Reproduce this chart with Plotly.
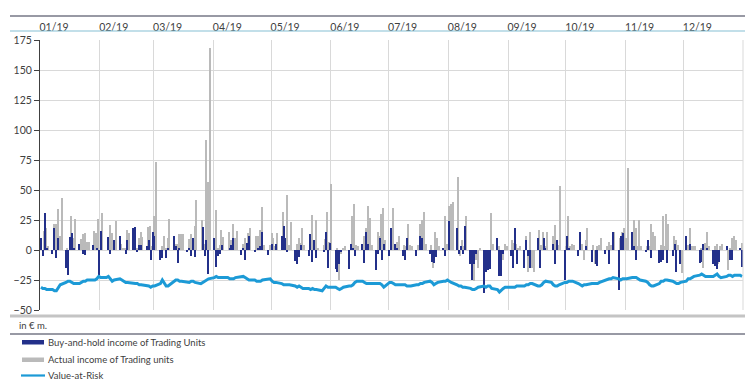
import pandas as pd
import plotly.graph_objects as go

# ---------------- data (EUR m, per trading day) ----------------
bh_jan = [10, -5, 31, 2, -3, 18, -7, 10, 0, -15, -21, 11, 14, 2, 5, 0, -3, -4, 0, 4, 0, 2, -21]
bh_feb = [16, 0, 11, -3, 0, 8, 12, 0, 0, -3, 8, 18, 19, -1, 4, 4, 3, 8, -8, 15]
bh_mar = [12, -8, -7, 0, -7, 1, 12, 3, -11, 2, 0, -2, 1, -5, 10, -6, 0, 19, -5, 8, -20]
bh_apr = [10, -14, -5, -3, 4, 0, 2, 4, 10, 0, -4, 2, -8, 6, 12, -2, 0, 2, 3, 15, -4, 0]
bh_may = [5, 0, 5, 12, 20, 10, -2, 0, -9, -12, -6, 4, 0, -5, 13, -10, 8, -7, 0, -2, 15, -15, 6]
bh_jun = [-16, -18, -12, -2, 0, -16, 5, 2, -5, 0, 5, -11, 15, 5, 0, -17, -3, 10, -8, 5]
bh_jul = [-5, 18, 0, 5, 2, -5, -8, 10, 0, 0, -5, 0, 12, 10, 0, -3, -10, -11, -6, 0, 2, -5, 0]
bh_aug = [24, 0, 18, -3, 3, -3, 20, -12, -25, -12, -3, 0, -36, -18, -17, -16, 0, 10, -22, -22, -3, 0]
bh_sep = [-5, -15, 18, -12, 0, -15, 8, -5, -15, 0, 10, -15, 0, 10, 2, 0, 5, -12, 8, 0, -25]
bh_oct = [12, 2, 0, 0, -5, 15, 0, 0, 3, -10, 0, -12, -13, 0, -3, 0, -12, 0, 15, -33, 12, 14, 0]
bh_nov = [0, 15, 3, -8, 0, 0, -2, 8, 0, -7, 0, -11, -10, -8, 0, -11, -5, 5, -18, 0, -12]
bh_dec = [12, 0, 5, 0, 0, -11, -10, 5, 0, 2, -12, -13, -16, -10, 0, 3, 0, -8, -8, 0, 2, -14]

act_jan = [0, 16, 18, 3, 22, 22, 34, 12, 43, 2, 0, 28, 10, 26, 9, 13, 14, 7, 7, 16, 14, 26, 0]
act_feb = [31, 5, 21, 14, 3, 24, 5, 2, 2, 17, 14, 5, 2, 10, 15, 11, 19, 20, 3, 28]
act_mar = [73, 3, 12, 2, 10, 26, 5, 5, 13, 13, 13, 9, 13, 10, 20, 42, 25, 5, 92, 57, 168]
act_apr = [33, 2, 4, 17, 11, 15, 8, 22, 10, 16, 5, 10, 3, 14, 18, 12, 12, 17, 36, 4, 4, 14]
act_may = [10, 3, 14, 32, 6, 46, 4, 23, 5, 10, 6, 18, 4, 2, 29, 6, 25, 2, 4, 9, 32, 7, 55]
act_jun = [2, -25, -3, 2, 3, 2, 28, 38, 4, 3, 12, 18, 37, 27, 4, 15, 12, 30, 35, 8]
act_jul = [3, 35, 4, 7, 12, 4, 3, 22, 4, 3, 4, 22, 25, 32, 5, 4, -15, 15, 10, 3, 28, 5, 37]
act_aug = [38, 40, 61, -5, 8, 3, 28, -15, -26, -8, -15, 2, -10, -12, -5, 31, 5, 3, -20, -8, 5, 3]
act_sep = [8, 6, 5, 2, 3, 12, -18, 15, -15, -18, 17, 4, 15, 3, 15, 12, 21, 3, 4, 53, 3]
act_oct = [28, 3, 5, 4, 3, 5, -8, 8, 18, 4, -12, 3, 4, 10, 3, 7, 4, 10, 15, 10, 15, 18, 10]
act_nov = [68, 25, 18, 3, 25, 3, 3, 3, 22, 15, 12, 4, 28, 3, 30, 22, 12, 8, 4, -8, -19]
act_dec = [4, 18, 3, 3, 3, 2, -15, 6, 15, 3, 3, 5, -12, 3, 5, -17, 2, 10, 12, 8, 6, 3]

var_jan = [-31, -32, -32, -33, -33, -34, -34, -31, -29, -27, -26, -26, -27, -28, -28, -27, -26, -26, -25, -25, -25, -24, -22]
var_feb = [-23, -23, -22, -24, -26, -25, -24, -25, -26, -27, -27, -28, -28, -28, -29, -29, -30, -30, -31, -30]
var_mar = [-30, -28, -25, -27, -30, -30, -26, -25, -25, -26, -26, -27, -27, -26, -26, -27, -28, -27, -26, -25, -24]
var_apr = [-23, -22, -23, -23, -23, -23, -24, -24, -24, -23, -22, -22, -23, -24, -25, -25, -26, -26, -26, -25, -24, -24]
var_may = [-26, -27, -27, -28, -29, -29, -29, -29, -30, -31, -30, -31, -32, -32, -33, -32, -33, -33, -34, -32, -30, -31, -31]
var_jun = [-31, -32, -33, -32, -31, -30, -30, -29, -27, -26, -26, -27, -28, -28, -28, -28, -28, -28, -29, -31]
var_jul = [-27, -27, -28, -29, -29, -29, -29, -30, -30, -30, -29, -29, -28, -28, -27, -26, -27, -29, -28, -27, -26, -26, -25]
var_aug = [-26, -27, -29, -30, -30, -31, -31, -32, -33, -33, -32, -31, -30, -31, -30, -30, -32, -33, -35, -33, -32, -31]
var_sep = [-31, -31, -31, -30, -30, -30, -29, -29, -28, -28, -30, -30, -29, -27, -26, -27, -29, -30, -30, -29, -27]
var_oct = [-27, -26, -26, -26, -28, -29, -30, -29, -29, -28, -28, -28, -28, -27, -25, -25, -24, -24, -23, -24, -25, -24, -24]
var_nov = [-24, -23, -23, -23, -24, -25, -26, -27, -29, -30, -30, -28, -26, -26, -25, -25, -26, -27, -28, -28, -27]
var_dec = [-26, -24, -24, -23, -22, -21, -20, -21, -22, -22, -22, -21, -20, -22, -23, -22, -21, -21, -22, -21, -21, -22]

series_names = ["Buy-and-hold income of Trading Units", "Actual income of Trading units", "Value-at-Risk"]
unit_label = "in € m."
y_ticks = [-50, -25, 0, 25, 50, 75, 100, 125, 150, 175]

buy_hold = sum([bh_jan, bh_feb, bh_mar, bh_apr, bh_may, bh_jun, bh_jul, bh_aug, bh_sep, bh_oct, bh_nov, bh_dec], [])
actual = sum([act_jan, act_feb, act_mar, act_apr, act_may, act_jun, act_jul, act_aug, act_sep, act_oct, act_nov, act_dec], [])
var = sum([var_jan, var_feb, var_mar, var_apr, var_may, var_jun, var_jul, var_aug, var_sep, var_oct, var_nov, var_dec], [])
dates = pd.bdate_range("2019-01-01", "2019-12-31")
assert len(dates) == len(buy_hold) == len(actual) == len(var)

# ---------------- styling ----------------
NAVY = "#23308a"
GRAY = "#bababa"
VAR_C = "#1c9ad6"
TXT = "#404040"
FONT = "Lato"
DAY = 86400000

W, H = 754, 386
L, R, T, B = 40, 11, 40, 76
PW, PH = W - L - R, H - T - B


def px(x):
    return (x - L) / PW


def py(y):
    return (H - B - y) / PH


fig = go.Figure()
fig.add_trace(go.Bar(x=dates, y=actual, name=series_names[1], marker=dict(color=GRAY, line=dict(width=0)),
                     width=0.6 * DAY, offset=0.95 * DAY, showlegend=False))
fig.add_trace(go.Bar(x=dates, y=buy_hold, name=series_names[0], marker=dict(color=NAVY, line=dict(width=0)),
                     width=0.6 * DAY, offset=0.15 * DAY, showlegend=False))
fig.add_trace(go.Scatter(x=dates + pd.Timedelta(hours=12), y=var, name=series_names[2], mode="lines",
                         line=dict(color=VAR_C, width=3), showlegend=False))

shapes = [
    dict(type="line", xref="paper", yref="paper", x0=px(10), x1=px(745), y0=py(16), y1=py(16),
         line=dict(color="#33354a", width=1.2)),
    dict(type="line", xref="paper", yref="paper", x0=px(10), x1=px(745), y0=py(31), y1=py(31),
         line=dict(color="#86bfd4", width=1.2)),
    dict(type="line", xref="paper", yref="paper", x0=1, x1=1, y0=0, y1=1,
         line=dict(color="#d9d9d9", width=1)),
    dict(type="line", xref="paper", yref="paper", x0=px(10), x1=px(745), y0=py(316), y1=py(316),
         line=dict(color="#c4c4c4", width=3)),
    dict(type="line", xref="paper", yref="paper", x0=px(10), x1=px(745), y0=py(334), y1=py(334),
         line=dict(color="#33354a", width=1.2)),
    # legend swatches
    dict(type="rect", xref="paper", yref="paper", x0=px(22), x1=px(44), y0=py(340), y1=py(344.5),
         fillcolor=NAVY, line=dict(width=0)),
    dict(type="rect", xref="paper", yref="paper", x0=px(22), x1=px(44), y0=py(357.5), y1=py(362),
         fillcolor=GRAY, line=dict(width=0)),
    dict(type="line", xref="paper", yref="paper", x0=px(21), x1=px(45), y0=py(375.5), y1=py(375.5),
         line=dict(color=VAR_C, width=2.2)),
]

annotations = [
    dict(text=unit_label, xref="paper", yref="paper", x=px(17), y=py(325), xanchor="left", yanchor="middle",
         showarrow=False, font=dict(family=FONT, size=9.5, color=TXT)),
]
for name, yy in zip(series_names, [342, 359, 375.5]):
    annotations.append(dict(text=name, xref="paper", yref="paper", x=px(46), y=py(yy), xanchor="left",
                            yanchor="middle", showarrow=False, font=dict(family=FONT, size=9.5, color=TXT)))

fig.update_layout(
    width=W, height=H,
    margin=dict(l=L, r=R, t=T, b=B, pad=0, autoexpand=False),
    paper_bgcolor="white", plot_bgcolor="white",
    barmode="overlay", bargap=0,
    showlegend=False,
    font=dict(family=FONT, size=10.5, color=TXT),
    shapes=shapes, annotations=annotations,
    xaxis=dict(type="date", range=["2019-01-01", "2019-12-31 23:00"], side="top", automargin=False,
               dtick="M1", tick0="2019-01-01", tickformat="%m/%y", ticks="",
               ticklabelshift=14, ticklabelstandoff=6,
               showgrid=True, gridcolor="#d9d9d9", gridwidth=1, showline=False, zeroline=False,
               tickfont=dict(family=FONT, size=10.5, color=TXT)),
    yaxis=dict(range=[-50, 175], tickvals=y_ticks, showgrid=True, gridcolor="#d9d9d9", gridwidth=1,
               automargin=False,
               zeroline=False, showline=True, linecolor="#404040", linewidth=1,
               ticks="outside", ticklen=5, tickcolor="#404040",
               tickfont=dict(family=FONT, size=10.5, color=TXT)),
)

fig.write_html("out.html", config={"displayModeBar": False},
               post_script="document.body.style.margin='0px';document.body.style.overflow='hidden';")
